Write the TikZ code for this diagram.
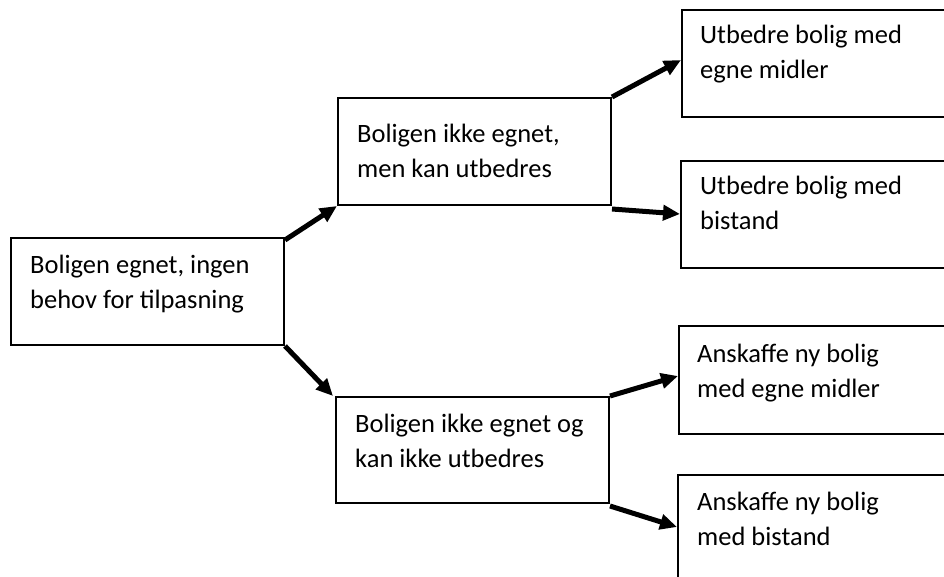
\documentclass[tikz,border=0pt]{standalone}
\usepackage{fontspec}
\setmainfont{Carlito}
\usetikzlibrary{arrows.meta}
\begin{document}
\begin{tikzpicture}[x=1pt,y=-1pt,
  box/.style={draw=black, line width=2pt, rectangle, inner sep=0pt, anchor=north west},
  txt/.style={inner sep=0pt, anchor=base west, font=\fontsize{26.5}{35}\selectfont},
  arr/.style={line width=5pt, -{Triangle[length=17pt,width=15pt]}}]
\clip (0,0) rectangle (944,576);
\fill[white] (0,0) rectangle (944,576);
% boxes
\node[box, minimum width=273pt, minimum height=107pt] (A) at (10,237) {};
\node[box, minimum width=273pt, minimum height=107pt] (B) at (337,97) {};
\node[box, minimum width=273pt, minimum height=106pt] (C) at (335,396) {};
\node[box, minimum width=300pt, minimum height=107pt] (D) at (681,9) {};
\node[box, minimum width=300pt, minimum height=107pt] (E) at (680,160) {};
\node[box, minimum width=300pt, minimum height=108pt] (F) at (678,325) {};
\node[box, minimum width=300pt, minimum height=140pt] (G) at (677,474) {};
% texts
\node[txt] (tA) at (30,273) {\parbox[t]{260pt}{Boligen egnet, ingen\\behov for tilpasning}};
\node[txt] (tB) at (357,142) {\parbox[t]{260pt}{Boligen ikke egnet,\\men kan utbedres}};
\node[txt] (tC) at (355,432) {\parbox[t]{260pt}{Boligen ikke egnet og\\kan ikke utbedres}};
\node[txt] (tD) at (700,43) {\parbox[t]{260pt}{Utbedre bolig med\\egne midler}};
\node[txt] (tE) at (700,194) {\parbox[t]{260pt}{Utbedre bolig med\\bistand}};
\node[txt] (tF) at (697,362) {\parbox[t]{260pt}{Anskaffe ny bolig\\med egne midler}};
\node[txt] (tG) at (697,510) {\parbox[t]{260pt}{Anskaffe ny bolig\\med bistand}};
% connectors
\draw[arr] ([yshift=-3pt]A.north east) -- (B.south west);
\draw[arr] (A.south east) -- ([xshift=-2pt]C.north west);
\draw[arr] (B.north east) -- ([yshift=-51pt]D.north west);
\draw[arr] ([yshift=-3pt]B.south east) -- ([yshift=-54pt]E.north west);
\draw[arr] (C.north east) -- ([yshift=-51pt]F.north west);
\draw[arr] ([yshift=-2pt]C.south east) -- ([yshift=-53pt]G.north west);
\end{tikzpicture}
\end{document}
